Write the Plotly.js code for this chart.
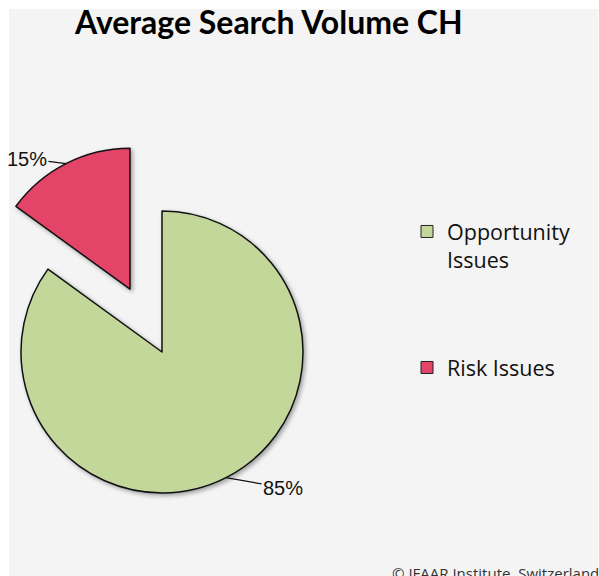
<!DOCTYPE html>
<html>
<head>
<meta charset="utf-8">
<script src="https://cdn.plot.ly/plotly-3.0.1.min.js"></script>
<style>
  html, body { margin: 0; padding: 0; background: #ffffff; overflow: hidden; }
  #bg { position: absolute; left: 9px; top: 9px; width: 589px; height: 567px; background: #f4f4f4; }
  #chart { position: absolute; left: -60px; top: 0px; width: 660px; height: 576px; }
  #chart .pielayer { filter: drop-shadow(2px 2px 2px rgba(0,0,0,0.35)); }
</style>
</head>
<body>
<div id="bg"></div>
<div id="chart"></div>
<script>
// ---- data ----
const labels = ["Opportunity Issues", "Risk Issues"];
const legendLabels = ["Opportunity<br>Issues", "Risk Issues"];
const values = [85, 15];
const colors = ["#c4d79b", "#e44468"];
const pulls = [0, 0.5];
const titleText = "Average Search Volume CH";
const footerText = "© IFAAR Institute, Switzerland";

// ---- layout geometry (page pixels) ----
const W = 660, H = 576, OFF = 60;
const pieCx = 162, pieCy = 352, pieR = 141;
const maxPull = Math.max(...pulls);
const half = pieR * (1 + maxPull);
const px = x => (x + OFF) / W;
const py = y => 1 - y / H;
// text offsets (px) of the percentage labels from the slice edge
const labelOffsets = [[57, 10], [-39, -5]];

const pie = {
  type: "pie",
  labels: labels,
  values: values,
  pull: pulls,
  sort: false,
  direction: "clockwise",
  rotation: 0,
  textinfo: "none",
  marker: { colors: colors, line: { color: "#111111", width: 1.5 } },
  showlegend: false,
  hoverinfo: "label+percent",
  domain: { x: [px(pieCx - half), px(pieCx + half)], y: [py(pieCy + half + 1), py(pieCy - half - 1)] }
};

// percentage labels with leader lines, anchored at the mid-angle of each slice
const total = values.reduce((a, b) => a + b, 0);
let cum = 0;
const labelAnnotations = values.map((v, i) => {
  const mid = (cum + v / 2) / total * 2 * Math.PI;
  cum += v;
  const dx = Math.sin(mid), dy = -Math.cos(mid);
  const cx = pieCx + pulls[i] * pieR * dx, cy = pieCy + pulls[i] * pieR * dy;
  const tipX = cx + pieR * dx, tipY = cy + pieR * dy;
  return {
    text: Math.round(v / total * 100) + "%",
    xref: "paper", yref: "paper",
    x: px(tipX), y: py(tipY),
    ax: labelOffsets[i][0], ay: labelOffsets[i][1],
    showarrow: true, arrowhead: 0, arrowwidth: 1.3, arrowcolor: "#111111", standoff: 0,
    font: { family: "Liberation Sans, Arial, sans-serif", size: 20, color: "#111111" }
  };
});

const legendTraces = labels.map((lab, i) => ({
  type: "scatter",
  mode: "markers",
  x: [null], y: [null],
  name: legendLabels[i],
  marker: { symbol: "square", size: 12, color: colors[i], line: { color: "#222222", width: 1 } },
  legend: i === 0 ? "legend" : "legend2",
  hoverinfo: "skip"
}));

const legendCommon = {
  font: { family: "Open Sans, sans-serif", size: 21.5, color: "#111111" },
  bgcolor: "rgba(0,0,0,0)",
  valign: "top",
  xanchor: "left",
  yanchor: "top"
};

const layout = {
  width: W, height: H,
  margin: { l: 0, r: 0, t: 0, b: 0 },
  paper_bgcolor: "rgba(0,0,0,0)",
  plot_bgcolor: "rgba(0,0,0,0)",
  xaxis: { visible: false },
  yaxis: { visible: false },
  title: {
    text: "<b>" + titleText + "</b>",
    font: { family: "Lato, sans-serif", size: 32, color: "#000000" },
    x: px(75), xanchor: "left", xref: "paper",
    y: py(23), yanchor: "middle", yref: "paper"
  },
  legend: Object.assign({}, legendCommon, { x: px(407), y: py(211) }),
  legend2: Object.assign({}, legendCommon, { x: px(407), y: py(347) }),
  annotations: labelAnnotations.concat([{
    text: footerText,
    xref: "paper", yref: "paper",
    x: px(390), y: py(585),
    xanchor: "left", yanchor: "bottom",
    showarrow: false,
    font: { family: "Open Sans, sans-serif", size: 15, color: "#333333" }
  }]),
  showlegend: true
};

Plotly.newPlot("chart", [pie].concat(legendTraces), layout, { displayModeBar: false, staticPlot: true });
</script>
</body>
</html>
